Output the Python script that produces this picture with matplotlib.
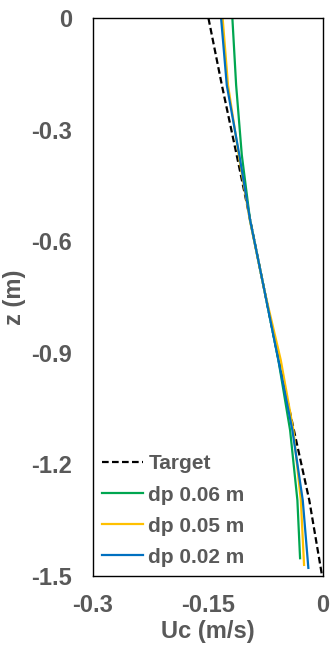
import numpy as np
import matplotlib
matplotlib.use("Agg")
import matplotlib.pyplot as plt

plt.rcParams['font.family'] = ['Liberation Sans', 'DejaVu Sans']
plt.rcParams['font.weight'] = 'bold'

grey = '#595959'

# depth (m) and velocity (m/s)
z_target = [0, -0.18, -0.368, -0.543, -0.731, -0.919, -1.108, -1.296, -1.497]
u_target = [-0.1495, -0.132, -0.1127, -0.095, -0.0766, -0.058, -0.038, -0.018, -0.0015]

z_06 = [0, -0.18, -0.368, -0.543, -0.731, -0.919, -1.108, -1.296, -1.452]
u_06 = [-0.1183, -0.1134, -0.106, -0.0952, -0.0766, -0.0583, -0.043, -0.0335, -0.030]

z_05 = [0, -0.18, -0.368, -0.543, -0.731, -0.919, -1.108, -1.296, -1.470]
u_05 = [-0.131, -0.124, -0.110, -0.0955, -0.0766, -0.0552, -0.0387, -0.029, -0.0248]

z_02 = [0, -0.18, -0.368, -0.543, -0.731, -0.919, -1.108, -1.296, -1.478]
u_02 = [-0.133, -0.1256, -0.1092, -0.0952, -0.0766, -0.0583, -0.040, -0.0265, -0.0192]

xticks = [-0.3, -0.15, 0]
xtick_labels = ['-0.3', '-0.15', '0']
yticks = [0, -0.3, -0.6, -0.9, -1.2, -1.5]
ytick_labels = ['0', '-0.3', '-0.6', '-0.9', '-1.2', '-1.5']

fig = plt.figure(figsize=(3.3, 6.48), dpi=100)
ax = fig.add_axes([0.282, 0.111, 0.697, 0.861])

ax.plot(u_target, z_target, color='black', ls=(0, (3, 1.5)), lw=1.6, label='Target')
ax.plot(u_06, z_06, color='#00A650', lw=1.6, label='dp 0.06 m')
ax.plot(u_05, z_05, color='#FFC000', lw=1.6, label='dp 0.05 m')
ax.plot(u_02, z_02, color='#0070C0', lw=1.6, label='dp 0.02 m')

ax.set_xlim(-0.3, 0)
ax.set_ylim(-1.5, 0)
ax.set_xticks(xticks)
ax.set_xticklabels(xtick_labels)
ax.set_yticks(yticks)
ax.set_yticklabels(ytick_labels)
ax.tick_params(length=0, labelsize=17, labelcolor=grey)
ax.tick_params(axis='y', pad=15)
ax.tick_params(axis='x', pad=13)
for s in ax.spines.values():
    s.set_linewidth(1.0)
    s.set_color('black')

ax.set_xlabel('Uc (m/s)', fontsize=17, color=grey, fontweight='bold', labelpad=2)
ax.set_ylabel('z (m)', fontsize=17, color=grey, fontweight='bold', labelpad=4)

leg = ax.legend(loc='lower left', bbox_to_anchor=(0.0, 0.0), frameon=False, fontsize=15,
                handlelength=1.95, handletextpad=0.25, labelspacing=0.58,
                borderaxespad=0.1, borderpad=0.35)
for t in leg.get_texts():
    t.set_color(grey)

fig.savefig('out.png', dpi=100)
